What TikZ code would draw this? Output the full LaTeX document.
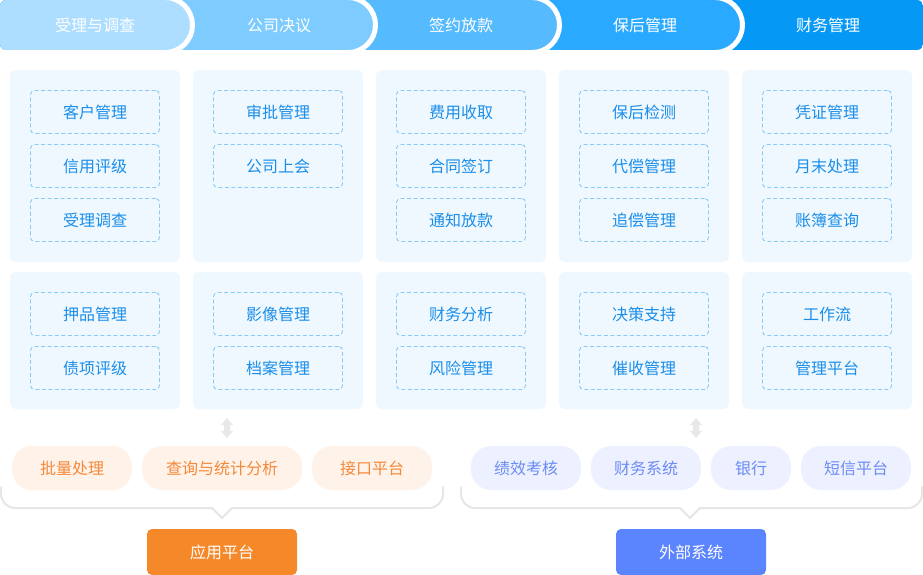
\documentclass[tikz,border=0pt]{standalone}
\usepackage{fontspec}
\setmainfont{Noto Sans CJK SC}
\begin{document}
\begin{tikzpicture}[x=1pt,y=-1pt,
  every node/.style={font=\fontsize{16}{16}\selectfont, inner sep=0pt},
  stage/.style={text=white},
  panel/.style={fill=panelbg, rounded corners=6pt},
  item/.style={draw=dashblue, dash pattern=on 4pt off 2.5pt, line width=0.9pt, rounded corners=4pt,
    minimum width=129pt, minimum height=43pt, text=itemtext, fill=panelbg},
  opill/.style={fill=orangebg, text=orangetext, rounded corners=20pt, minimum height=44pt},
  bpill/.style={fill=bluebg, text=bluetext, rounded corners=20pt, minimum height=44pt},
  bracket/.style={draw=bracketgray, line width=2pt, line cap=round},
  dblarrow/.style={fill=arrowgray},
  button/.style={rounded corners=5pt, minimum width=150pt, minimum height=46pt, text=white},
  whitearc/.style={white, line width=5pt}
]
\definecolor{c1}{HTML}{ADDEFF}
\definecolor{c2}{HTML}{7ECCFF}
\definecolor{c3}{HTML}{56BAFF}
\definecolor{c4}{HTML}{29A9FF}
\definecolor{c5}{HTML}{0599F5}
\definecolor{panelbg}{HTML}{F0F8FF}
\definecolor{dashblue}{HTML}{8ACAF4}
\definecolor{itemtext}{HTML}{1A8EEA}
\definecolor{orangebg}{HTML}{FFF2E8}
\definecolor{orangetext}{HTML}{F5893A}
\definecolor{bluebg}{HTML}{EDF1FF}
\definecolor{bluetext}{HTML}{6C8BF5}
\definecolor{bracketgray}{HTML}{E6E6E6}
\definecolor{arrowgray}{HTML}{E8E8E8}
\definecolor{orangebtn}{HTML}{F5892A}
\definecolor{bluebtn}{HTML}{5B84FF}

\useasboundingbox (0,0) rectangle (923,575);

% ---- top stage bar ----
\begin{scope}
  \clip[rounded corners=6pt] (0,0) rectangle (923,50);
  \fill[c5] (700,0) rectangle (923,50);
  \fill[c4] (0,0) -- (715,0) arc[start angle=-90,end angle=90,radius=25] -- (0,50) -- cycle;
  \draw[whitearc] (715,-2.5) arc[start angle=-90,end angle=90,radius=27.5];
  \fill[c3] (0,0) -- (532,0) arc[start angle=-90,end angle=90,radius=25] -- (0,50) -- cycle;
  \draw[whitearc] (532,-2.5) arc[start angle=-90,end angle=90,radius=27.5];
  \fill[c2] (0,0) -- (348,0) arc[start angle=-90,end angle=90,radius=25] -- (0,50) -- cycle;
  \draw[whitearc] (348,-2.5) arc[start angle=-90,end angle=90,radius=27.5];
  \fill[c1] (0,0) -- (165,0) arc[start angle=-90,end angle=90,radius=25] -- (0,50) -- cycle;
  \draw[whitearc] (165,-2.5) arc[start angle=-90,end angle=90,radius=27.5];
\end{scope}
\node[stage] (s1) at (95,25) {受理与调查};
\node[stage] (s2) at (279,25) {公司决议};
\node[stage] (s3) at (461,25) {签约放款};
\node[stage] (s4) at (645,25) {保后管理};
\node[stage] (s5) at (828,25) {财务管理};

% ---- panels ----
\foreach \i in {0,...,4}{
  \path[panel] (10+183*\i,70) rectangle (180+183*\i,262);
  \path[panel] (10+183*\i,272) rectangle (180+183*\i,409);
}

% column 1
\node[item] (a1) at (95,112) {客户管理};
\node[item] (a2) at (95,166) {信用评级};
\node[item] (a3) at (95,220) {受理调查};
\node[item] (a4) at (95,314) {押品管理};
\node[item] (a5) at (95,368) {债项评级};
% column 2
\node[item] (b1) at (278,112) {审批管理};
\node[item] (b2) at (278,166) {公司上会};
\node[item] (b4) at (278,314) {影像管理};
\node[item] (b5) at (278,368) {档案管理};
% column 3
\node[item] (c1n) at (461,112) {费用收取};
\node[item] (c2n) at (461,166) {合同签订};
\node[item] (c3n) at (461,220) {通知放款};
\node[item] (c4n) at (461,314) {财务分析};
\node[item] (c5n) at (461,368) {风险管理};
% column 4
\node[item] (d1) at (644,112) {保后检测};
\node[item] (d2) at (644,166) {代偿管理};
\node[item] (d3) at (644,220) {追偿管理};
\node[item] (d4) at (644,314) {决策支持};
\node[item] (d5) at (644,368) {催收管理};
% column 5
\node[item] (e1) at (827,112) {凭证管理};
\node[item] (e2) at (827,166) {月末处理};
\node[item] (e3) at (827,220) {账簿查询};
\node[item] (e4) at (827,314) {工作流};
\node[item] (e5) at (827,368) {管理平台};

% ---- double arrows ----
\foreach \x in {227,696}{
  \fill[dblarrow] (\x,418) -- (\x+6,425) -- (\x+3,425) -- (\x+3,431) -- (\x+6,431) -- (\x,438)
    -- (\x-6,431) -- (\x-3,431) -- (\x-3,425) -- (\x-6,425) -- cycle;
}

% ---- brackets ----
\draw[bracket, rounded corners=14pt] (1,487) -- (1,508) -- (212,508);
\draw[bracket] (212,508) -- (222,518) -- (232,508);
\draw[bracket, rounded corners=14pt] (232,508) -- (443,508) -- (443,487);
\draw[bracket, rounded corners=14pt] (461,487) -- (461,508) -- (680,508);
\draw[bracket] (680,508) -- (690,518) -- (700,508);
\draw[bracket, rounded corners=14pt] (700,508) -- (922,508) -- (922,487);

% ---- pills ----
\node[opill, minimum width=120pt] (p1) at (72,468) {批量处理};
\node[opill, minimum width=160pt] (p2) at (222,468) {查询与统计分析};
\node[opill, minimum width=120pt] (p3) at (372,468) {接口平台};
\node[bpill, minimum width=110pt] (q1) at (526,468) {绩效考核};
\node[bpill, minimum width=110pt] (q2) at (646,468) {财务系统};
\node[bpill, minimum width=80pt] (q3) at (751,468) {银行};
\node[bpill, minimum width=110pt] (q4) at (856,468) {短信平台};

% ---- buttons ----
\node[button, fill=orangebtn] (app) at (222,552) {应用平台};
\node[button, fill=bluebtn] (ext) at (691,552) {外部系统};
\end{tikzpicture}
\end{document}
